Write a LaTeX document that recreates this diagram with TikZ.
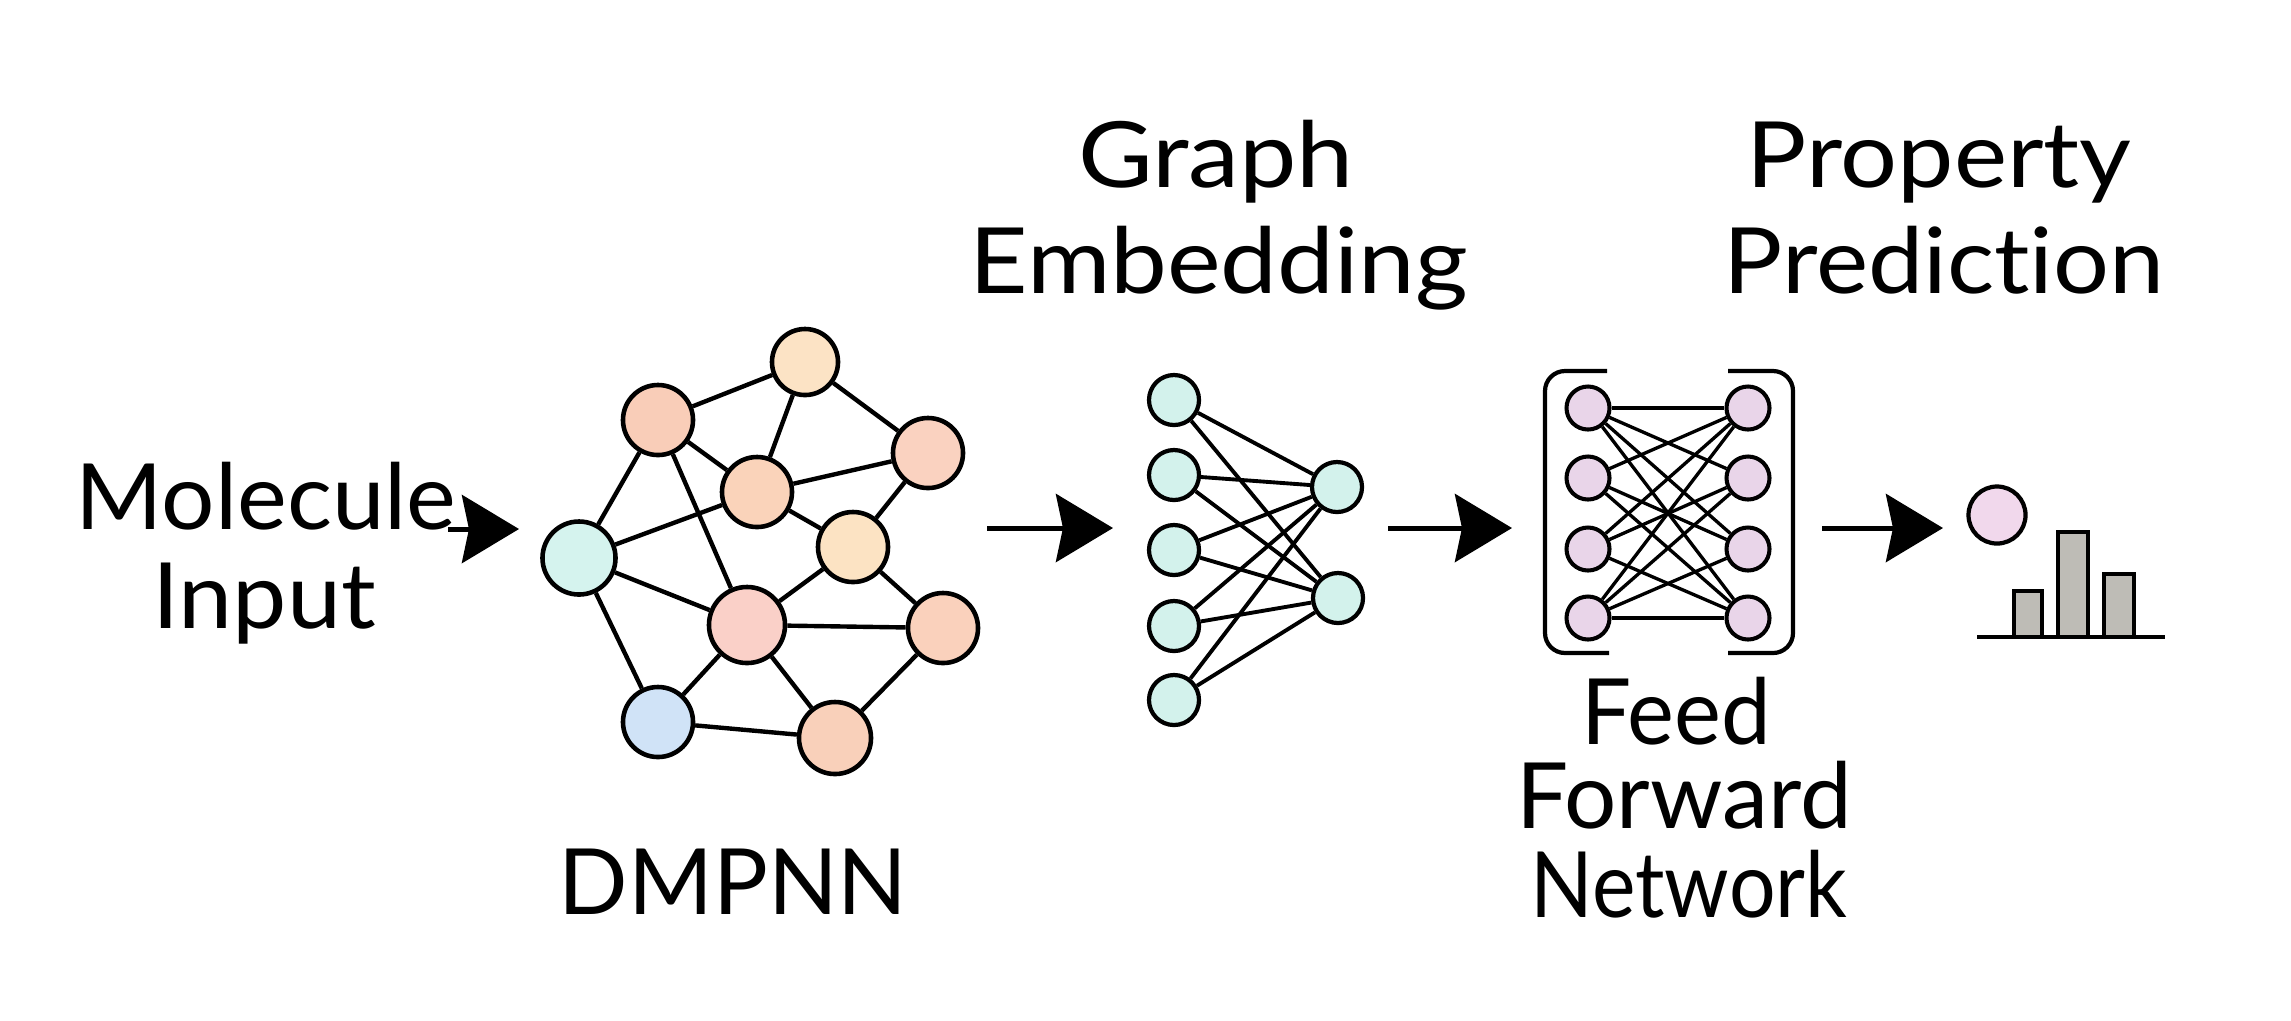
\documentclass[tikz,border=0pt]{standalone}
\usepackage{fontspec}
\usepackage{graphicx}
\setmainfont{Lato}[Ligatures=NoCommon]
\usetikzlibrary{arrows.meta}
\definecolor{cA}{HTML}{FCE3C5}
\definecolor{cB}{HTML}{F9CDB8}
\definecolor{cC}{HTML}{FAD2C0}
\definecolor{cD}{HTML}{FAD3BA}
\definecolor{cE}{HTML}{D5F3EE}
\definecolor{cF}{HTML}{FCE3C3}
\definecolor{cG}{HTML}{FAD0C8}
\definecolor{cH}{HTML}{FAD1BC}
\definecolor{cI}{HTML}{D0E3F7}
\definecolor{cJ}{HTML}{F9D0BA}
\definecolor{cEmb}{HTML}{D3F2EC}
\definecolor{cFfn}{HTML}{E9D5E9}
\definecolor{cProp}{HTML}{F1D8EC}
\definecolor{cBar}{HTML}{BEBCB6}
\newcommand\hstretch[2]{\scalebox{#1}[1]{#2}}
\begin{document}
\begin{tikzpicture}[x=0.01cm,y=-0.01cm,
  gnode/.style={circle, draw=black, line width=1.3pt, minimum size=0.70cm, inner sep=0pt},
  enode/.style={circle, draw=black, line width=1.2pt, minimum size=0.50cm, inner sep=0pt, fill=cEmb},
  fnode/.style={circle, draw=black, line width=1.15pt, minimum size=0.43cm, inner sep=0pt, fill=cFfn},
  gedge/.style={line width=1.25pt},
  eedge/.style={line width=1.1pt},
  fedge/.style={line width=0.95pt},
  flowarrow/.style={line width=1.42pt, -{Stealth[length=0.57cm,width=0.68cm,inset=0.07cm]}},
  txt/.style={font=\fontsize{26}{30}\selectfont, anchor=base, inner sep=0pt},
  bar/.style={draw=black, line width=0.95pt, fill=cBar},
  bracket/.style={line width=1.2pt, rounded corners=0.2cm}
]
\useasboundingbox[fill=white] (0,0) rectangle (2291,1020);

% labels
\node[txt] (mol1) at (266,529) {\hstretch{1.03}{Molecule}};
\node[txt] (mol2) at (264,628) {\hstretch{1.06}{Input}};
\node[txt] (ge1) at (1216,187) {\hstretch{1.12}{Graph}};
\node[txt] (ge2) at (1219,293) {\hstretch{1.11}{Embedding}};
\node[txt] (pp1) at (1939,187) {\hstretch{1.10}{Property}};
\node[txt] (pp2) at (1944,293) {\hstretch{1.08}{Prediction}};
\node[txt] (dm) at (733,914) {DMPNN};
\node[txt] (ff1) at (1676,744) {\hstretch{0.97}{Feed}};
\node[txt] (ff2) at (1684,828) {\hstretch{1.01}{Forward}};
\node[txt] (ff3) at (1689,917) {\hstretch{0.90}{Network}};

% molecule graph
\node[gnode, fill=cA, minimum size=0.66cm] (A) at (805,362) {};
\node[gnode, fill=cB] (B) at (658,420) {};
\node[gnode, fill=cC] (C) at (928,453) {};
\node[gnode, fill=cD] (D) at (757,492) {};
\node[gnode, fill=cE, minimum size=0.73cm] (E) at (579,558) {};
\node[gnode, fill=cF] (F) at (853,547) {};
\node[gnode, fill=cG, minimum size=0.76cm] (G) at (747,625) {};
\node[gnode, fill=cH] (H) at (943,628) {};
\node[gnode, fill=cI] (I) at (658,722) {};
\node[gnode, fill=cJ, minimum size=0.72cm] (J) at (835,738) {};
\foreach \a/\b in {A/B,A/D,A/C,B/D,B/E,B/G,C/D,C/F,D/E,D/F,E/G,E/I,F/G,F/H,G/H,G/I,G/J,H/J,I/J}
  \draw[gedge] (\a) -- (\b);

% graph embedding
\foreach \i/\y in {1/400,2/475,3/550,4/626,5/700}
  \node[enode] (L\i) at (1174,\y) {};
\node[enode] (R1) at (1337,487) {};
\node[enode] (R2) at (1338,598) {};
\foreach \i in {1,...,5}
  \foreach \j in {1,2}
    \draw[eedge] (L\i) -- (R\j);

% feed forward network
\foreach \i/\y in {1/408,2/478,3/549,4/618}{
  \node[fnode] (FL\i) at (1588,\y) {};
  \node[fnode] (FR\i) at (1748,\y) {};
}
\foreach \i in {1,...,4}
  \foreach \j in {1,...,4}{
    \ifnum\i=\j
      \ifnum\i=1 \draw[fedge] (FL\i) -- (FR\j);\fi
      \ifnum\i=4 \draw[fedge] (FL\i) -- (FR\j);\fi
    \else
      \draw[fedge] (FL\i) -- (FR\j);
    \fi
  }
\draw[bracket] (1607,371) -- (1545,371) -- (1545,653) -- (1609,653);
\draw[bracket] (1728,371) -- (1793,371) -- (1793,653) -- (1728,653);

% property prediction
\node[circle, draw=black, line width=1.2pt, minimum size=0.57cm, inner sep=0pt, fill=cProp] (P) at (1997,515) {};
\draw[bar] (2014,591) rectangle (2042,637);
\draw[bar] (2058,532) rectangle (2088,637);
\draw[bar] (2104,574) rectangle (2134,637);
\coordinate (base1) at (1977,637);
\coordinate (base2) at (2165,637);
\draw[line width=0.95pt] (base1) -- (base2);

% flow arrows
\coordinate (a0s) at (448,529); \coordinate (a0e) at (519,529);
\coordinate (a1s) at (987,528); \coordinate (a1e) at (1113,528);
\coordinate (a2s) at (1388,528); \coordinate (a2e) at (1512,528);
\coordinate (a3s) at (1822,528); \coordinate (a3e) at (1943,528);
\draw[flowarrow] (a0s) -- (a0e);
\draw[flowarrow] (a1s) -- (a1e);
\draw[flowarrow] (a2s) -- (a2e);
\draw[flowarrow] (a3s) -- (a3e);
\end{tikzpicture}
\end{document}
